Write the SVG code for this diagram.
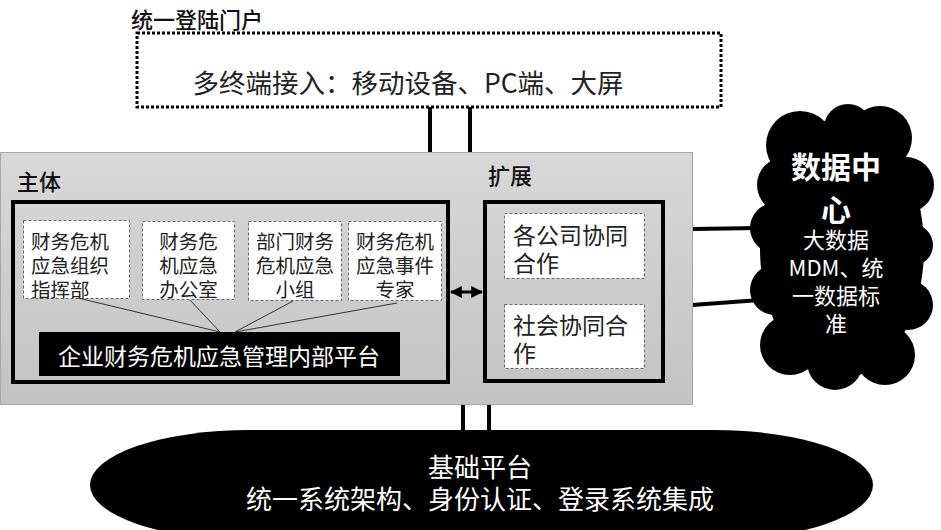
<svg xmlns="http://www.w3.org/2000/svg" width="941" height="530" viewBox="0 0 941 530">
<defs>
<linearGradient id="gbg" x1="0" y1="0" x2="0" y2="1">
<stop offset="0" stop-color="#d8d8d8"/>
<stop offset="1" stop-color="#c3c3c3"/>
</linearGradient>
<marker id="ah" viewBox="0 0 10 10" refX="9" refY="5" markerWidth="4" markerHeight="4" orient="auto-start-reverse">
<path d="M0,0 L10,5 L0,10 z" fill="#000"/>
</marker>
<style>
text{font-family:"Noto Sans CJK SC","Liberation Sans",sans-serif;dominant-baseline:central;}
.hd{font-size:22px;font-weight:500;fill:#111;}
.sm{font-size:19.5px;fill:#222;}
.mid{text-anchor:middle;}
.dash{fill:#fff;stroke:#666;stroke-width:1;stroke-dasharray:3 2;}
.thick{fill:none;stroke:#000;stroke-width:4;}
.conn{stroke:#000;stroke-width:4;fill:none;}
.thin{stroke:#333;stroke-width:1;fill:none;}
.wt{fill:#fff;}
</style>
</defs>

<g id="connectors">
<line class="conn" x1="430" y1="107" x2="430" y2="153"/>
<line class="conn" x1="470" y1="107" x2="470" y2="153"/>
<line class="conn" x1="463" y1="405" x2="463" y2="432" stroke-width="3"/>
<line class="conn" x1="489" y1="405" x2="489" y2="432" stroke-width="3"/>
<line class="conn" x1="692" y1="229" x2="760" y2="228"/>
<line class="conn" x1="692" y1="305" x2="760" y2="300"/>
</g>

<g id="portal">
<text class="hd" x="131" y="18" font-size="23">统一登陆门户</text>
<rect x="137" y="33" width="584" height="74" fill="#fff" stroke="#000" stroke-width="3" stroke-dasharray="3 2"/>
<text x="408" y="81" font-size="26.5" fill="#222" class="mid">多终端接入：移动设备、PC端、大屏</text>
</g>

<g id="main-panel">
<rect x="0.5" y="152.5" width="692" height="252" fill="url(#gbg)" stroke="#a8a8a8" stroke-width="1"/>
<text class="hd" x="17" y="180">主体</text>
<text class="hd" x="488" y="174">扩展</text>
</g>

<g id="body">
<rect class="thick" x="13" y="202" width="435" height="180"/>
</g>

<g id="b1">
<rect class="dash" x="23.5" y="220.5" width="106" height="78"/>
<text class="sm"><tspan x="31" y="240">财务危机</tspan><tspan x="31" y="264">应急组织</tspan><tspan x="31" y="288">指挥部</tspan></text>
</g>
<g id="b2">
<rect class="dash" x="142.5" y="221.5" width="92" height="78"/>
<text class="sm mid"><tspan x="188.5" y="240">财务危</tspan><tspan x="188.5" y="264">机应急</tspan><tspan x="188.5" y="288">办公室</tspan></text>
</g>
<g id="b3">
<rect class="dash" x="248.5" y="221.5" width="93" height="79"/>
<text class="sm mid"><tspan x="295" y="240">部门财务</tspan><tspan x="295" y="264">危机应急</tspan><tspan x="295" y="288">小组</tspan></text>
</g>
<g id="b4">
<rect class="dash" x="348.5" y="221.5" width="93" height="79"/>
<text class="sm mid"><tspan x="395" y="240">财务危机</tspan><tspan x="395" y="264">应急事件</tspan><tspan x="395" y="288">专家</tspan></text>
</g>

<g id="links">
<line class="thin" x1="78" y1="298" x2="220" y2="332"/>
<line class="thin" x1="190" y1="300" x2="220" y2="332"/>
<line class="thin" x1="293" y1="301" x2="235" y2="332"/>
<line class="thin" x1="397" y1="303" x2="235" y2="332"/>
<line stroke="#000" stroke-width="3" x1="451" y1="292" x2="482" y2="292" marker-start="url(#ah)" marker-end="url(#ah)"/>
</g>

<g id="platform">
<rect x="39" y="332" width="361" height="44" fill="#000"/>
<text class="wt mid" x="219" y="355" font-size="23">企业财务危机应急管理内部平台</text>
</g>

<g id="ext">
<rect class="thick" x="485" y="202" width="178" height="179"/>
<rect class="dash" x="504.5" y="213.5" width="140" height="65"/>
<text font-size="23" fill="#222"><tspan x="513" y="234">各公司协同</tspan><tspan x="513" y="262">合作</tspan></text>
<rect class="dash" x="504.5" y="304.5" width="140" height="64"/>
<text font-size="23" fill="#222"><tspan x="513" y="324">社会协同合</tspan><tspan x="513" y="352">作</tspan></text>
</g>

<g id="datacenter">
<g fill="#000">
<ellipse cx="842" cy="248" rx="82" ry="130"/>
<circle cx="800" cy="145" r="34"/>
<circle cx="848" cy="128" r="24"/>
<circle cx="880" cy="138" r="32"/>
<circle cx="906" cy="185" r="28"/>
<circle cx="912" cy="245" r="21"/>
<circle cx="908" cy="305" r="25"/>
<circle cx="885" cy="355" r="30"/>
<circle cx="835" cy="362" r="28"/>
<circle cx="790" cy="345" r="30"/>
<circle cx="775" cy="290" r="25"/>
<circle cx="775" cy="228" r="25"/>
<circle cx="785" cy="185" r="28"/>
</g>
<text class="wt mid" font-size="30" font-weight="bold"><tspan x="836" y="165">数据中</tspan><tspan x="836" y="208">心</tspan></text>
<text class="wt mid" font-size="22"><tspan x="836" y="238">大数据</tspan><tspan x="836" y="266">MDM、统</tspan><tspan x="836" y="294">一数据标</tspan><tspan x="836" y="322">准</tspan></text>
</g>

<g id="base">
<rect x="90" y="430" width="783" height="110" rx="160" ry="55" fill="#000"/>
<text class="wt mid" font-size="26"><tspan x="480" y="465">基础平台</tspan><tspan x="480" y="497">统一系统架构、身份认证、登录系统集成</tspan></text>
</g>
</svg>
